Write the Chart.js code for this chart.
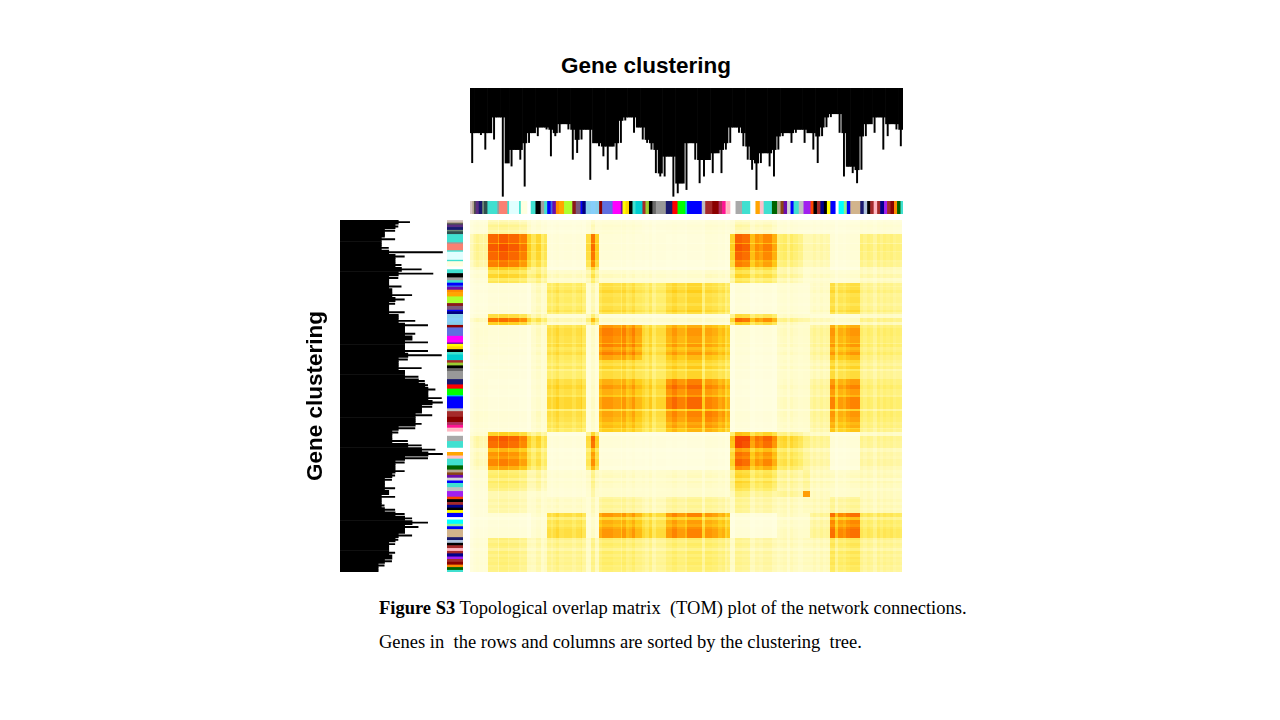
<!DOCTYPE html>
<html>
<head>
<meta charset="utf-8">
<script src="https://cdn.jsdelivr.net/npm/chart.js@4.4.1/dist/chart.umd.min.js"></script>
<style>
  body { margin: 0; width: 1280px; height: 720px; background: #fff; position: relative; overflow: hidden; }
  canvas { position: absolute; }
  #title { position: absolute; left: 526px; top: 52px; width: 240px; text-align: center;
           font: bold 22.5px "Liberation Sans", Arial, sans-serif; line-height: 28px; color: #000; }
  .cap { position: absolute; left: 379px; font: 18.5px "Liberation Serif", "Times New Roman", serif;
         color: #000; white-space: pre; line-height: 20px; }
</style>
</head>
<body>
<div id="title">Gene clustering</div>
<canvas id="topTree" width="433" height="112" style="left:470px;top:88px"></canvas>
<canvas id="colBar" width="433" height="13" style="left:470px;top:201px"></canvas>
<canvas id="leftTree" width="146" height="352" style="left:300px;top:220px"></canvas>
<canvas id="rowBar" width="16" height="352" style="left:447px;top:220px"></canvas>
<canvas id="tom" width="432" height="352" style="left:470px;top:220px"></canvas>
<div class="cap" style="top:598px"><b>Figure S3</b> Topological overlap matrix  (TOM) plot of the network connections.</div>
<div class="cap" style="top:632px">Genes in  the rows and columns are sorted by the clustering  tree.</div>
<script>
// dendrogram leaf tips (merge height, 1 = root)
const topTips = [0.33,0.60,0.58,0.45,0.60,0.54,0.74,0.03,0.33,0.30,0.45,0.36,0.12,0.51,0.60,0.57,0.65,0.63,0.39,0.57,
  0.60,0.68,0.63,0.36,0.42,0.54,0.63,0.18,0.51,0.48,0.39,0.27,0.48,0.36,0.51,0.71,0.74,0.60,0.65,0.54,
  0.51,0.45,0.24,0.21,0.21,0.39,0.03,0.06,0.15,
  0.09,0.51,0.36,0.15,0.21,0.36,0.24,0.42,0.24,0.45,0.51,0.65,0.60,0.48,0.36,0.27,0.09,0.33,0.42,0.30,
  0.21,0.45,0.57,0.60,0.51,0.60,0.63,0.51,0.60,0.45,0.33,0.57,0.65,0.74,0.77,0.60,0.21,0.30,0.24,0.15,
  0.27,0.57,0.68,0.60,0.74,0.45,0.57,0.68,0.63,0.48];
const leftTips = [0.34,0.45,0.48,0.58,0.48,0.61,0.54,0.03,0.39,0.48,0.42,0.23,0.12,0.45,0.54,0.42,0.51,0.32,0.39,0.48,
  0.54,0.39,0.45,0.29,0.17,0.39,0.29,0.32,0.17,0.39,0.17,0.04,0.36,0.45,0.23,0.39,0.26,0.20,0.17,0.10,
  0.17,0.04,0.03,0.13,0.23,0.13,0.29,0.23,0.29,0.45,0.51,0.36,0.23,0.10,0.03,0.17,0.39,0.48,0.39,0.48,
  0.51,0.58,0.48,0.54,0.48,0.61,0.58,0.48,0.39,0.32,0.17,0.26,0.39,0.32,0.45,0.48,0.54,0.48,0.51,0.51,
  0.58,0.64];

// module blocks along the gene order (percent of genes)
const moduleStart = [0,0.6,1.0,1.4,2.1,2.9,3.3,4.1,6.4,6.8,8.7,9.1,11.4,11.8,13.3,14.1,15.2,16.4,17.2,17.9,
  18.7,19.1,19.9,20.6,21.8,23.7,24.5,25.6,26.0,26.8,27.9,29.0,29.9,30.6,33.0,34.9,35.3,36.0,36.8,37.6,
  38.3,39.9,40.6,41.4,42.2,43.0,45.3,46.8,48.0,49.8,50.2,53.6,54.4,56.0,57.5,58.3,59.1,59.4,60.2,61.4,
  62.9,64.8,66.0,67.0,67.9,69.8,71.0,71.8,72.5,73.3,74.1,74.8,76.0,77.1,78.7,79.4,80.2,81.0,81.8,82.5,
  83.3,84.5,85.2,86.4,87.1,87.9,90.2,91.0,91.8,92.5,93.3,94.1,94.8,95.7,96.4,97.2,98.0,98.7,99.5];
const moduleColor = ["#d8c6c6","#b5a48f","#4d4d4d","#5b2c83","#191970","#6e8b74","#2f4f4f","#40e0d0","#9a9a9a","#fa8072",
  "#40e0d0","#e0ffff","#40e0d0","#ffffe0","#ffffff","#40e0d0","#000000","#a0a0a0","#40e0d0","#0000ff",
  "#4169e1","#6a0dad","#ff8c00","#ffa500","#adff2f","#8b1a1a","#7b5a7b","#0000ff","#000080","#87ceeb",
  "#87cefa","#87ceeb","#8b0000","#5f6fe0","#ff00ff","#6a0dad","#ffff00","#ffd700","#000000","#40e0d0",
  "#00ced1","#a52a2a","#9acd32","#000000","#696969","#999999","#191970","#ff0000","#00ff00","#00ced1",
  "#0000ff","#bebebe","#a52a2a","#8b0000","#b03060","#ff1493","#ffc0cb","#ffb6c1","#ffffff","#a9a9a9",
  "#40e0d0","#ffffff","#ffa500","#ffc0cb","#40e0d0","#006400","#b5a48f","#8b4513","#6a0dad","#d3d3d3",
  "#0000ff","#40e0d0","#c0c0c0","#a020f0","#ff4500","#000000","#a52a2a","#00008b","#000000","#ffff00",
  "#0000ff","#ffffff","#00ffff","#90ee90","#0000ff","#d2b48c","#191970","#b0c4de","#000000","#a52a2a",
  "#ffb6c1","#a52a2a","#00008b","#a020f0","#a52a2a","#8b0000","#ff8c00","#006400","#40e0d0"];
const moduleWeight = [0.6,0.7,0.8,0.9,0.8,0.7,0.8,1.0,0.8,1.05,0.9,1.0,0.85,0.9,0.6,0.8,1.0,0.7,0.8,0.9,
  0.8,0.9,1.0,0.85,0.9,0.8,0.9,1.0,0.8,0.6,1.1,0.7,0.9,1.0,0.95,0.8,1.0,0.85,0.9,1.0,
  0.85,0.9,0.8,0.95,0.7,0.85,0.9,1.0,0.9,0.8,1.0,0.7,1.0,0.95,0.85,0.9,0.7,0.8,0.6,1.05,
  1.0,0.7,0.85,0.8,0.9,0.75,0.8,0.85,0.9,0.7,0.9,0.8,0.7,1.0,0.8,0.9,0.8,0.9,0.8,0.85,
  1.0,0.7,0.9,0.85,0.95,1.0,0.9,0.8,0.9,0.85,0.7,0.9,0.8,0.9,0.85,0.9,0.8,0.85,0.8];

// groups of related modules and their topological overlap
const groupStart = [0, 4.1, 14.1, 17.9, 26.8, 29.9, 39.9, 45.3, 53.6, 60.2, 71.0, 77.1, 78.7, 83.3, 90.2];
const groupOverlap = [
  [0.15,0.30,0.15,0.10,0.20,0.15,0.12,0.12,0.15,0.25,0.15,0.10,0.12,0.10,0.15],
  [0.30,0.88,0.50,0.10,0.75,0.10,0.10,0.08,0.10,0.85,0.40,0.20,0.25,0.10,0.35],
  [0.15,0.50,0.40,0.20,0.40,0.18,0.18,0.15,0.18,0.50,0.30,0.15,0.20,0.15,0.25],
  [0.10,0.10,0.20,0.45,0.20,0.50,0.45,0.55,0.50,0.10,0.15,0.10,0.20,0.50,0.35],
  [0.20,0.75,0.40,0.20,0.50,0.15,0.15,0.15,0.15,0.75,0.30,0.20,0.20,0.15,0.30],
  [0.15,0.10,0.18,0.50,0.15,0.80,0.55,0.72,0.68,0.10,0.20,0.15,0.30,0.72,0.40],
  [0.12,0.10,0.18,0.45,0.15,0.55,0.50,0.60,0.55,0.10,0.20,0.15,0.25,0.55,0.35],
  [0.12,0.08,0.15,0.55,0.15,0.72,0.60,0.88,0.78,0.08,0.20,0.15,0.30,0.78,0.40],
  [0.15,0.10,0.18,0.50,0.15,0.68,0.55,0.78,0.80,0.10,0.20,0.15,0.30,0.72,0.40],
  [0.25,0.85,0.50,0.10,0.75,0.10,0.10,0.08,0.10,0.95,0.55,0.30,0.30,0.10,0.30],
  [0.15,0.40,0.30,0.15,0.30,0.20,0.20,0.20,0.20,0.55,0.35,0.30,0.25,0.20,0.25],
  [0.10,0.20,0.15,0.10,0.20,0.15,0.15,0.15,0.15,0.30,0.30,0.70,0.20,0.15,0.20],
  [0.12,0.25,0.20,0.20,0.20,0.30,0.25,0.30,0.30,0.30,0.25,0.20,0.25,0.30,0.25],
  [0.10,0.10,0.15,0.50,0.15,0.72,0.55,0.78,0.72,0.10,0.20,0.15,0.30,0.85,0.45],
  [0.15,0.35,0.25,0.35,0.30,0.40,0.35,0.40,0.40,0.30,0.25,0.20,0.25,0.45,0.35]
];

const moduleEnd = moduleStart.map((s, i) => i + 1 < moduleStart.length ? moduleStart[i + 1] : 100);
const groupOf = (s) => { let g = 0; groupStart.forEach((v, k) => { if (s >= v) g = k; }); return g; };

// pale yellow -> yellow -> orange -> red
const ramp = [[0, 255, 255, 238], [0.15, 255, 252, 202], [0.35, 255, 238, 105], [0.55, 255, 206, 25], [0.75, 255, 140, 0], [1, 245, 68, 0]];
function heatColor(t) {
    t = Math.max(0, Math.min(1, t));
    for (let k = 1; k < ramp.length; k++) {
        if (t <= ramp[k][0]) {
            const a = ramp[k - 1], b = ramp[k], f = (t - a[0]) / (b[0] - a[0]);
            return `rgb(${[1, 2, 3].map((c) => Math.round(a[c] + (b[c] - a[c]) * f)).join(",")})`;
        }
    }
    return "rgb(245,68,0)";
}

const cells = [];
moduleStart.forEach((si, i) => {
    moduleStart.forEach((sj, j) => {
        const v = groupOverlap[groupOf(sj)][groupOf(si)] * moduleWeight[i] * moduleWeight[j];
        cells.push({ x: si, y: sj, x2: moduleEnd[i], y2: moduleEnd[j], v: v });
    });
});

// a leaf stays full width only down to the shallower of its neighbours, then narrows to its tip
const joinLevel = (tips) => tips.map((h, i) => Math.max(h, tips[Math.max(i - 1, 0)], tips[Math.min(i + 1, tips.length - 1)]));

const base = {
    responsive: false,
    maintainAspectRatio: false,
    animation: false,
    layout: { padding: 0 },
    plugins: { legend: { display: false }, tooltip: { enabled: false }, title: { display: false } },
};

function treeSets(tips) {
    return [
        { data: joinLevel(tips).map((h) => [h, 1]), backgroundColor: "#000", barPercentage: 1, categoryPercentage: 1, grouped: false },
        { data: tips.map((h) => [h, 1]), backgroundColor: "#000", barPercentage: 0.45, categoryPercentage: 1, grouped: false },
    ];
}

// top dendrogram
new Chart(document.getElementById("topTree"), {
    type: "bar",
    data: { labels: topTips.map((_, i) => i + 1), datasets: treeSets(topTips) },
    options: { ...base, scales: { x: { display: false }, y: { display: false, min: 0, max: 1 } } },
});

// left dendrogram with rotated title
new Chart(document.getElementById("leftTree"), {
    type: "bar",
    data: { labels: leftTips.map((_, i) => i + 1), datasets: treeSets(leftTips) },
    options: {
        ...base,
        indexAxis: "y",
        plugins: {
            ...base.plugins,
            title: {
                display: true,
                position: "left",
                text: "Gene clustering",
                color: "#000",
                font: { family: "Liberation Sans", size: 22.5, weight: "bold" },
                padding: { top: 2, bottom: 11 },
            },
        },
        scales: { x: { display: false, min: 0, max: 1, reverse: true }, y: { display: false } },
    },
});

// module colour bars
const bandData = (axisKey, valKey) => moduleStart.map((s, i) => ({ [axisKey]: "module", [valKey]: [s, moduleEnd[i]] }));
new Chart(document.getElementById("colBar"), {
    type: "bar",
    data: {
        labels: ["module"],
        datasets: [{ data: bandData("y", "x"), backgroundColor: moduleColor, barPercentage: 1, categoryPercentage: 1 }],
    },
    options: { ...base, indexAxis: "y", scales: { x: { type: "linear", display: false, min: 0, max: 100 }, y: { display: false } } },
});
new Chart(document.getElementById("rowBar"), {
    type: "bar",
    data: {
        labels: ["module"],
        datasets: [{ data: bandData("x", "y"), backgroundColor: moduleColor, barPercentage: 1, categoryPercentage: 1 }],
    },
    options: { ...base, scales: { y: { type: "linear", display: false, min: 0, max: 100, reverse: true }, x: { display: false } } },
});

// TOM heatmap: every cell placed through the chart's x / y scales
const tomCells = {
    id: "tomCells",
    beforeDatasetsDraw(chart) {
        const { ctx, scales: { x, y } } = chart;
        ctx.save();
        chart.data.datasets[0].data.forEach((c) => {
            const x0 = Math.round(x.getPixelForValue(c.x)), x1 = Math.round(x.getPixelForValue(c.x2));
            const y0 = Math.round(y.getPixelForValue(c.y)), y1 = Math.round(y.getPixelForValue(c.y2));
            ctx.fillStyle = heatColor(c.v);
            ctx.fillRect(x0, y0, x1 - x0, y1 - y0);
        });
        ctx.restore();
    },
};
new Chart(document.getElementById("tom"), {
    type: "scatter",
    data: { datasets: [{ data: cells, pointRadius: 0 }] },
    options: {
        ...base,
        scales: {
            x: { type: "linear", display: false, min: 0, max: 100 },
            y: { type: "linear", display: false, min: 0, max: 100, reverse: true },
        },
    },
    plugins: [tomCells],
});
</script>
</body>
</html>
